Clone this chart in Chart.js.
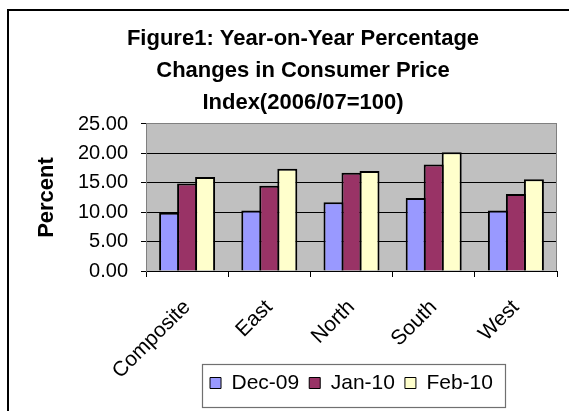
<!DOCTYPE html>
<html>
<head>
<meta charset="utf-8">
<script src="https://cdn.jsdelivr.net/npm/chart.js@4/dist/chart.umd.min.js"></script>
<style>
  html, body { margin: 0; padding: 0; background: #fff; overflow: hidden; }
  #frame { position: absolute; left: 7px; top: 9px; width: 700px; height: 600px;
           border-left: 2px solid #000; border-top: 2px solid #000; }
  #myChart { position: absolute; left: 0; top: 0; }
</style>
</head>
<body>
<div id="frame"></div>
<canvas id="myChart" width="569" height="411"></canvas>
<script>
var regions = ['Composite', 'East', 'North', 'South', 'West'];
var dec09 = [9.9, 10.3, 11.7, 12.4, 10.3];
var jan10 = [14.9, 14.5, 16.7, 18.1, 13.1];
var feb10 = [16.0, 17.4, 17.0, 20.2, 15.6];
var titleLines = ['Figure1: Year-on-Year Percentage', 'Changes in Consumer Price', 'Index(2006/07=100)'];

Chart.defaults.font.family = "'Liberation Sans', Arial, sans-serif";
Chart.defaults.color = '#000';

// gray plot area, right border and the box round the legend
var plotBox = {
  id: 'plotBox',
  afterLayout: function (chart) {
    // rotated category labels run past the legend top, so don't clip them there
    chart.scales.x.bottom = chart.height;
  },
  beforeDraw: function (chart) {
    var a = chart.chartArea, ctx = chart.ctx;
    ctx.save();
    ctx.fillStyle = '#C0C0C0';
    ctx.fillRect(a.left, a.top, a.right - a.left, a.bottom - a.top);
    ctx.restore();
  },
  beforeDatasetsDraw: function (chart) {
    var a = chart.chartArea, ctx = chart.ctx;
    ctx.save();
    ctx.strokeStyle = '#808080';
    ctx.lineWidth = 1;
    ctx.beginPath();
    ctx.moveTo(Math.round(a.right) - 0.5, a.top);
    ctx.lineTo(Math.round(a.right) - 0.5, a.bottom);
    ctx.stroke();
    ctx.restore();
  },
  afterDraw: function (chart) {
    var hb = chart.legend.legendHitBoxes, ctx = chart.ctx;
    if (!hb || !hb.length) return;
    var last = hb[hb.length - 1];
    var left = Math.round(hb[0].left - 8) + 0.5;
    var right = Math.round(last.left + last.width + 12) + 0.5;
    var top = Math.round(hb[0].top - 9) + 0.5;
    ctx.save();
    ctx.strokeStyle = '#707070';
    ctx.lineWidth = 1.2;
    ctx.strokeRect(left, top, right - left, 43);
    ctx.restore();
  }
};

var ctx = document.getElementById('myChart').getContext('2d');
var myChart = new Chart(ctx, {
  type: 'bar',
  data: {
    labels: regions,
    datasets: [
      { label: 'Dec-09', data: dec09, backgroundColor: '#9999FF', borderColor: '#000', borderWidth: 2 },
      { label: 'Jan-10', data: jan10, backgroundColor: '#993366', borderColor: '#000', borderWidth: 2 },
      { label: 'Feb-10', data: feb10, backgroundColor: '#FFFFCC', borderColor: '#000', borderWidth: 2 }
    ]
  },
  options: {
    responsive: false,
    animation: false,
    categoryPercentage: 0.657,
    barPercentage: 1.111,
    layout: { padding: { left: 49, right: 12, top: 12, bottom: 7.5 } },
    plugins: {
      title: {
        display: true,
        text: titleLines,
        font: { size: 22, weight: 'bold', lineHeight: 1.4545 },
        padding: { top: 10.5, bottom: 5.5 }
      },
      legend: {
        position: 'bottom',
        fullSize: false,
        labels: {
          boxWidth: 11,
          boxHeight: 11,
          padding: 10,
          font: { size: 21 },
          generateLabels: function (chart) {
            var items = Chart.defaults.plugins.legend.labels.generateLabels(chart);
            items.forEach(function (it) { it.lineWidth = 1; });
            return items;
          }
        }
      },
      tooltip: { enabled: false }
    },
    scales: {
      x: {
        grid: { offset: true, drawOnChartArea: false, color: '#000', tickLength: 6 },
        border: { color: '#000', width: 1 },
        ticks: { autoSkip: false, minRotation: 45, maxRotation: 45, padding: 18, font: { size: 21 } },
        afterFit: function (scale) { scale.height = 91.5; }
      },
      y: {
        min: 0,
        max: 25,
        ticks: {
          stepSize: 5,
          padding: 13,
          font: { size: 20 },
          callback: function (v) { return v.toFixed(2); }
        },
        grid: {
          color: function (c) { return c.tick && c.tick.value === 25 ? '#808080' : '#000'; },
          tickColor: '#000',
          tickLength: 5
        },
        border: { color: '#808080', width: 1 },
        title: {
          display: true,
          text: 'Percent',
          font: { size: 22, weight: 'bold' },
          padding: { top: -15.2, bottom: 0 }
        },
        afterFit: function (scale) { scale.width = 97; }
      }
    }
  },
  plugins: [plotBox]
});
</script>
</body>
</html>
